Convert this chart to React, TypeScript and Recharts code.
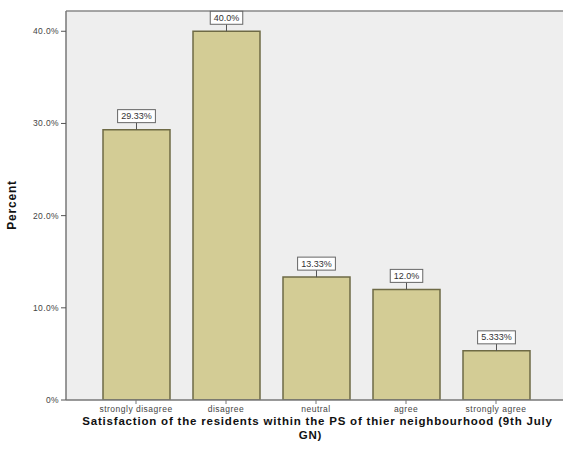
import React from 'react';
import {
  BarChart,
  Bar,
  XAxis,
  YAxis,
  CartesianGrid,
  LabelList,
  Label,
  ReferenceLine,
} from 'recharts';

// Responses and percentages
const categories = ['strongly disagree', 'disagree', 'neutral', 'agree', 'strongly agree'];
const percents = [29.33, 40.0, 13.33, 12.0, 5.333];
const valueLabels = ['29.33%', '40.0%', '13.33%', '12.0%', '5.333%'];
const yTicks = [0, 10, 20, 30, 40];

const data = categories.map((name, i) => ({ name, value: percents[i], label: valueLabels[i] }));

const FONT = '"Liberation Sans", Arial, sans-serif';

function ValueBox(props: any) {
  const { x, y, width, index } = props;
  const text = valueLabels[index];
  const cx = x + width / 2;
  const w = text.length * 5.3 + 6;
  const h = 13;
  const boxBottom = y - 7;
  return (
    <g>
      <line x1={cx} y1={boxBottom} x2={cx} y2={y} stroke="#555" strokeWidth={1} />
      <rect x={cx - w / 2} y={boxBottom - h} width={w} height={h} fill="#fff" stroke="#666" strokeWidth={1} />
      <text x={cx} y={boxBottom - 3.5} textAnchor="middle" fontSize={9} fill="#333" fontFamily={FONT}>
        {text}
      </text>
    </g>
  );
}

function XTitle(props: any) {
  const { viewBox } = props;
  const cx = viewBox.x + viewBox.width / 2;
  return (
    <text textAnchor="middle" fontSize={11.5} fontWeight="bold" fill="#111" fontFamily={FONT} letterSpacing={0.8}>
      <tspan x={cx + 3} y={425}>Satisfaction of the residents within the PS of thier neighbourhood (9th July</tspan>
      <tspan x={cx - 4} y={439}>GN)</tspan>
    </text>
  );
}

function YTitle() {
  return (
    <text
      x={16}
      y={205}
      transform="rotate(-90 16 205)"
      textAnchor="middle"
      fontSize={12}
      fontWeight="bold"
      fill="#111"
      fontFamily={FONT}
      letterSpacing={0.8}
    >
      Percent
    </text>
  );
}

export default function App() {
  return (
    <div style={{ position: 'absolute', left: 0, top: 0 }}>
      <BarChart
        width={563}
        height={455}
        data={data}
        margin={{ top: 11, right: 0, left: 16, bottom: 30 }}
        barSize={67}
      >
        <CartesianGrid horizontal={false} vertical={false} fill="#eeeeee" />
        <ReferenceLine y={42.2} stroke="#888" strokeWidth={1.5} />
        <XAxis
          dataKey="name"
          padding={{ left: 25, right: 22 }}
          axisLine={{ stroke: '#777', strokeWidth: 1.5 }}
          tickLine={{ stroke: '#777' }}
          tickSize={4}
          height={25}
          interval={0}
          tick={{ fontSize: 8.5, fill: '#444', fontFamily: FONT, letterSpacing: 0.5 }}
        >
          <Label content={<XTitle />} />
        </XAxis>
        <YAxis
          width={50}
          domain={[0, 42.2]}
          ticks={yTicks}
          allowDataOverflow
          axisLine={{ stroke: '#777', strokeWidth: 1.5 }}
          tickLine={{ stroke: '#555' }}
          tickSize={5}
          tick={{ fontSize: 8.5, fill: '#444', fontFamily: FONT, letterSpacing: 0.4 }}
          tickFormatter={(v: number) => (v === 0 ? '0%' : `${v.toFixed(1)}%`)}
        >
          <Label content={<YTitle />} />
        </YAxis>
        <Bar dataKey="value" fill="#d3cc95" stroke="#6e6a45" strokeWidth={1.5} isAnimationActive={false}>
          <LabelList dataKey="label" content={<ValueBox />} />
        </Bar>
      </BarChart>
    </div>
  );
}
